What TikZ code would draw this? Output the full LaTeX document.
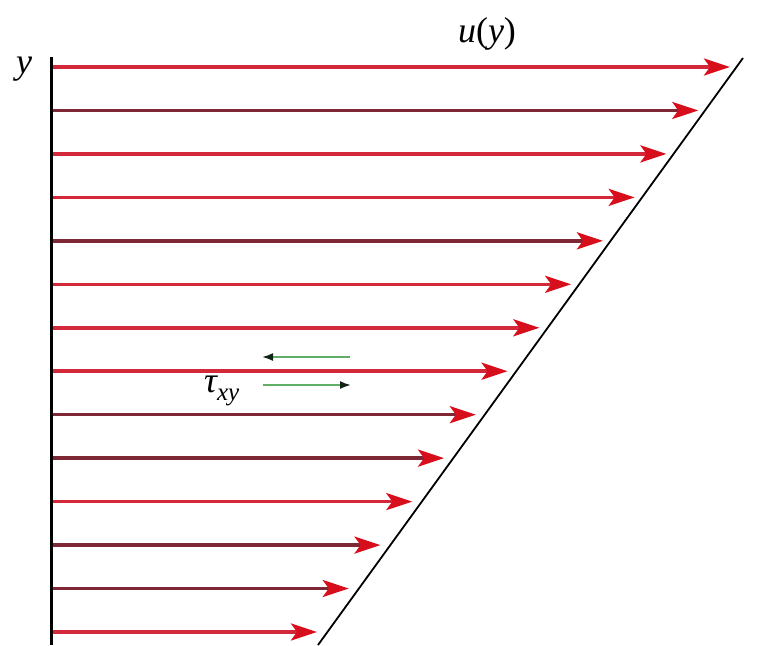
\documentclass[tikz,border=0pt]{standalone}
\usepackage{fontspec}
\setmainfont{Liberation Serif}
\usepackage{tikz}
\usetikzlibrary{arrows.meta}

\definecolor{flowred}{RGB}{210,40,58}
\definecolor{flowdark}{RGB}{125,40,52}
\definecolor{tipred}{RGB}{215,15,28}
\definecolor{shear}{RGB}{95,175,105}

\tikzset{
  flow/.style={line width=3.5pt, -{Stealth[length=26pt,width=17pt,inset=6pt,color=tipred]}},
  shearflow/.style={draw=shear, line width=1.8pt, -{Latex[length=11pt,width=8pt,color=black!80!shear]}},
  label/.style={font=\fontsize{36}{40}\selectfont\itshape, inner sep=0pt}
}

\begin{document}
\begin{tikzpicture}[x=1pt, y=-1pt]
        \useasboundingbox (0,0) rectangle (768,645);
        % Define coordinates
        \coordinate (wall_top) at (51, 57);
        \coordinate (wall_bottom) at (51, 645);
        \coordinate (plate_top) at (743, 58);
        \coordinate (plate_bottom) at (318, 645);

        % Draw velocity arrows from the wall to the moving plate
        \foreach \i/\col in {0/flowred, 1/flowdark, 2/flowred, 3/flowred, 4/flowdark, 5/flowred, 6/flowred,
                             7/flowred, 8/flowdark, 9/flowdark, 10/flowred, 11/flowdark, 12/flowdark, 13/flowred} {
          \coordinate (s\i) at (52, 67+43.46*\i);
          \coordinate (e\i) at (730-31.77*\i, 67+43.46*\i);
          \draw[flow, draw=\col] (s\i) -- (e\i);
        }

        % Draw the wall and the sloping profile line
        \draw[line width=3pt] (wall_top) -- (wall_bottom);
        \draw[line width=1.8pt] (plate_bottom) -- (plate_top);

        % Draw the shear stress pair
        \coordinate (upper_start) at (350, 357);
        \coordinate (upper_end) at (262, 357);
        \coordinate (lower_start) at (263, 385);
        \coordinate (lower_end) at (351, 385);
        \draw[shearflow] (upper_start) -- (upper_end);
        \draw[shearflow] (lower_start) -- (lower_end);

        % Labels
        \node[label] (ylab) at (24, 69) {y};
        \node[label] (ulab) at (487, 34) {u\upshape(\itshape y\upshape)};
        \node[label, anchor=base west] (taulab) at (204, 392) {τ\raisebox{-8pt}{\fontsize{25}{28}\selectfont xy}};
      \end{tikzpicture}
\end{document}
